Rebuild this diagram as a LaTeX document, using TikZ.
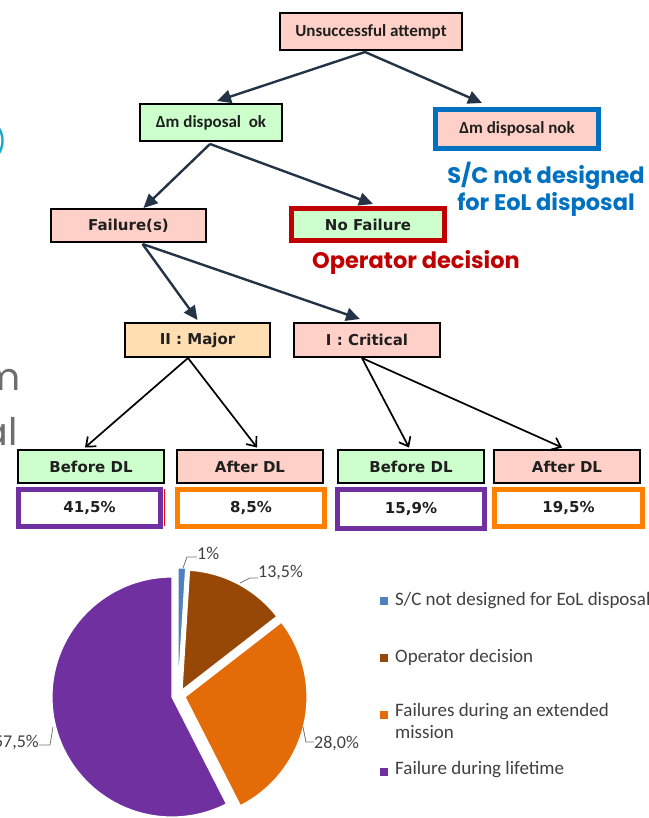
\documentclass[tikz,border=0pt]{standalone}
\usepackage{fontspec}
\setmainfont{Carlito}
\newfontfamily\calfont{Carlito}
\newfontfamily\tahfont{DejaVu Sans}
\newfontfamily\gothfont{Poppins}
\usetikzlibrary{arrows.meta}
\definecolor{pinkf}{RGB}{255,208,199}
\definecolor{greenf}{RGB}{204,255,204}
\definecolor{orangef}{RGB}{255,223,178}
\definecolor{bluebd}{RGB}{0,112,192}
\definecolor{redbd}{RGB}{192,0,0}
\definecolor{purplebd}{RGB}{112,48,160}
\definecolor{orangebd}{RGB}{255,128,0}
\definecolor{navy}{RGB}{36,52,70}
\definecolor{pieblue}{RGB}{79,129,189}
\definecolor{piebrown}{RGB}{151,72,6}
\definecolor{pieorange}{RGB}{227,108,9}
\definecolor{piepurple}{RGB}{112,48,160}
\definecolor{teal}{RGB}{28,167,199}
\definecolor{txtgray}{RGB}{64,64,64}
\definecolor{slidegray}{RGB}{110,110,110}
\tikzset{
  box/.style={draw=black, line width=2pt, inner sep=0pt, anchor=center, text=black!88},
  calb/.style={font=\calfont\bfseries\fontsize{17}{20}\selectfont},
  tahb/.style={font=\tahfont\bfseries\fontsize{15}{18}\selectfont},
  darr/.style={draw=navy, line width=2.4pt, -{Triangle[length=14pt,width=13pt]}},
  larr/.style={draw=black, line width=1.7pt, -{Straight Barb[length=8pt,width=13pt,line width=1.7pt]}},
  pct/.style={box, tahb, fill=white, line width=5pt},
  bigtxt/.style={font=\gothfont\bfseries\fontsize{22.5}{27}\selectfont, inner sep=0pt, anchor=center},
  pielbl/.style={font=\calfont\fontsize{18}{21}\selectfont, text=txtgray, inner sep=0pt},
  leader/.style={draw=black!55, line width=0.8pt},
  legtxt/.style={font=\calfont\fontsize{19}{22}\selectfont, text=txtgray, inner sep=0pt, anchor=west, align=left},
  legsq/.style={minimum size=8pt, inner sep=0pt, anchor=center},
  slide/.style={font=\gothfont\fontsize{38}{40}\selectfont, text=slidegray, inner sep=0pt},
}
\begin{document}
\begin{tikzpicture}[x=1pt,y=-1pt]
\useasboundingbox (0,0) rectangle (648,818);
% slide fragments
\node[font=\gothfont\fontsize{28}{30}\selectfont, text=teal, inner sep=0pt, anchor=east] (frag1) at (7,141) {)};
\node[slide, anchor=base east] (frag2) at (21,390) {m};
\node[slide, anchor=base east] (frag3) at (18,445) {al};

% tree nodes
\node[box, calb, fill=pinkf, minimum width=182pt, minimum height=37pt] (ua) at (371,31.5) {Unsuccessful attempt};
\node[box, calb, fill=greenf, minimum width=142pt, minimum height=37pt] (ok) at (211,122.5) {Δm disposal\ \ ok};
\node[box, calb, fill=pinkf, draw=bluebd, line width=5pt, minimum width=163pt, minimum height=39pt] (nok) at (517,129) {Δm disposal nok};
\node[bigtxt, text=bluebd, align=center] (sc) at (546,189) {S/C not designed\\for EoL disposal};
\node[box, tahb, fill=pinkf, minimum width=155pt, minimum height=33pt] (fail) at (128.5,225.5) {Failure(s)};
\node[box, tahb, fill=greenf, draw=redbd, line width=5pt, minimum width=153pt, minimum height=32pt] (nofail) at (368,224.5) {No Failure};
\node[bigtxt, text=redbd] (opdec) at (416,262) {Operator decision};
\node[box, tahb, fill=orangef, minimum width=145pt, minimum height=34pt] (major) at (197.5,340) {II : Major};
\node[box, tahb, fill=pinkf, minimum width=146pt, minimum height=34pt] (crit) at (367,340) {I : Critical};
\node[box, tahb, fill=greenf, minimum width=146pt, minimum height=33pt] (b1) at (91,466.5) {Before DL};
\node[box, tahb, fill=pinkf, minimum width=146pt, minimum height=33pt] (a1) at (250,466.5) {After DL};
\node[box, tahb, fill=greenf, minimum width=146pt, minimum height=33pt] (b2) at (411,466.5) {Before DL};
\node[box, tahb, fill=pinkf, minimum width=146pt, minimum height=33pt] (a2) at (567,466.5) {After DL};
\node[pct, draw=purplebd, minimum width=142pt, minimum height=37pt] (p1) at (89.5,508) {41,5\%};
\node[pct, draw=orangebd, minimum width=147pt, minimum height=37pt] (p2) at (251,508) {8,5\%};
\node[pct, draw=purplebd, minimum width=147pt, minimum height=39pt] (p3) at (411,509) {15,9\%};
\node[pct, draw=orangebd, minimum width=148pt, minimum height=37pt] (p4) at (568.5,508) {19,5\%};
\draw[red, line width=1pt] ([xshift=1.5pt,yshift=-2pt]p1.north east) -- ([xshift=1.5pt,yshift=3pt]p1.south east);

% arrows
\draw[darr] ([xshift=-6pt,yshift=-1pt]ua.south) -- ([xshift=6pt,yshift=2pt]ok.north);
\draw[darr] ([xshift=-6pt,yshift=-1pt]ua.south) -- ([xshift=-35pt,yshift=4pt]nok.north);
\draw[darr] ([xshift=-1pt,yshift=-2pt]ok.south) -- ([xshift=15pt]fail.north);
\draw[darr] ([xshift=-1pt,yshift=-2pt]ok.south) -- ([xshift=5pt,yshift=2pt]nofail.north);
\draw[darr] ([xshift=14pt,yshift=-1pt]fail.south) -- ([yshift=2pt]major.north);
\draw[darr] ([xshift=14pt,yshift=-1pt]fail.south) -- ([xshift=-7pt,yshift=3pt]crit.north);
\draw[larr] ([xshift=-9.5pt]major.south) -- ([xshift=-6pt,yshift=1.5pt]b1.north);
\draw[larr] ([xshift=-9.5pt]major.south) -- ([xshift=7pt,yshift=1.5pt]a1.north);
\draw[larr] ([xshift=-5pt]crit.south) -- ([xshift=-2pt,yshift=1.5pt]b2.north);
\draw[larr] ([xshift=-5pt]crit.south) -- ([xshift=-5pt,yshift=1.5pt]a2.north);

% pie
\begin{scope}[shift={(172,697)}, y=1pt]
  \filldraw[fill=piepurple, draw=white, line width=1.2pt] (0,0) -- (90:120) arc[start angle=90, end angle=297, radius=120] -- cycle;
  \filldraw[fill=pieorange, draw=white, line width=1.2pt] (13,0) -- ++(-63:122) arc[start angle=-63, end angle=37.8, radius=122] -- cycle;
  \filldraw[fill=piebrown, draw=white, line width=1.2pt] (10,7) -- ++(37.8:120) arc[start angle=37.8, end angle=86.4, radius=120] -- cycle;
  \filldraw[fill=pieblue, draw=white, line width=1pt] (6,8) -- ++(86.4:121) arc[start angle=86.4, end angle=90, radius=121] -- cycle;
\end{scope}

% pie labels
\coordinate (r1) at (183,568);
\coordinate (r2) at (240,583);
\coordinate (r3) at (303,727);
\coordinate (r4) at (53,727);
\node[pielbl, anchor=west] (l1) at (197,553) {1\%};
\node[pielbl, anchor=west] (l2) at (258,573) {13,5\%};
\node[pielbl, anchor=west] (l3) at (314,743) {28,0\%};
\node[pielbl, anchor=east] (l4) at (39,743) {57,5\%};
\draw[leader] (r1) -- (187,557) -- (l1.west |- 0,557);
\draw[leader] (r2) -- (250,578) -- (l2.west |- 0,578);
\draw[leader] (r3) -- (306,742) -- (l3.west |- 0,742);
\draw[leader] (r4) -- (50,745) -- (l4.east |- 0,745);

% legend
\node[legsq, fill=pieblue] (q1) at (384,601) {};
\node[legsq, fill=piebrown] (q2) at (384,658) {};
\node[legsq, fill=pieorange] (q3) at (384,714.5) {};
\node[legsq, fill=piepurple] (q4) at (384,771.5) {};
\node[legtxt] (t1) at (395,601) {S/C not designed for EoL disposal};
\node[legtxt] (t2) at (395,657) {Operator decision};
\node[legtxt, anchor=north west] (t3) at (395,703) {Failures during an extended\\mission};
\node[legtxt] (t4) at (395,770) {Failure during lifetime};
\end{tikzpicture}
\end{document}
